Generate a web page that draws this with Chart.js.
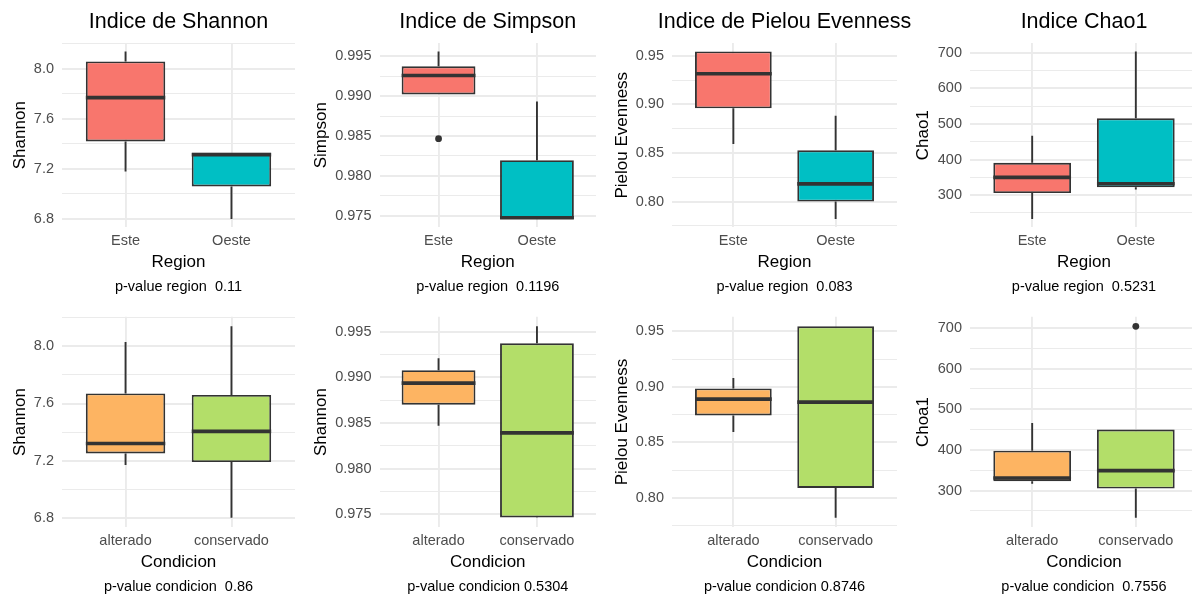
<!DOCTYPE html>
<html>
<head>
<meta charset="utf-8">
<script src="https://cdn.jsdelivr.net/npm/chart.js@4.4.1/dist/chart.umd.min.js"></script>
<style>
  html, body { margin: 0; padding: 0; background: #ffffff; }
  body { width: 1192px; height: 598px; overflow: hidden; position: relative; }
  .cell { position: absolute; width: 321px; height: 300px; }
  .cell canvas { display: block; }
</style>
</head>
<body>
<script>
// Groups and fill colours
const regionGroups = ['Este', 'Oeste'];
const condicionGroups = ['alterado', 'conservado'];
const regionColors = ['#F8766D', '#00BFC4'];
const condicionColors = ['#FDB462', '#B3DE69'];

// Box statistics per group: [lower whisker, Q1, median, Q3, upper whisker]
const shannonRegion = [[7.18, 7.42, 7.77, 8.06, 8.14], [6.80, 7.06, 7.315, 7.33, 7.33]];
const simpsonRegion = [[0.9902, 0.9902, 0.99257, 0.99374, 0.9956], [0.9746, 0.9746, 0.97475, 0.98197, 0.98933]];
const pielouRegion = [[0.8592, 0.8959, 0.9315, 0.9545, 0.9545], [0.782, 0.800, 0.8182, 0.8527, 0.8883]];
const chaoRegion = [[233, 306, 350, 391, 467], [316, 322, 332, 516, 704]];

const shannonCondicion = [[7.17, 7.25, 7.32, 7.67, 8.03], [6.80, 7.19, 7.405, 7.66, 8.14]];
const simpsonCondicion = [[0.9847, 0.9870, 0.98937, 0.99079, 0.9921], [0.9746, 0.97464, 0.98391, 0.99373, 0.9956]];
const pielouCondicion = [[0.8592, 0.8742, 0.8889, 0.8985, 0.908], [0.782, 0.8089, 0.8862, 0.9545, 0.9545]];
const chaoCondicion = [[317, 323, 331, 398, 466], [233, 305, 349, 450, 450]];

// Points beyond the whiskers
const simpsonRegionOut = [[0.98466], []];
const chaoCondicionOut = [[], [704]];
const noOutliers = [[], []];

// Axis ticks (labelled) and minor grid lines
const shannonTicks = [6.8, 7.2, 7.6, 8.0];
const shannonTickLabels = ['6.8', '7.2', '7.6', '8.0'];
const shannonMinor = [7.0, 7.4, 7.8, 8.2];
const simpsonTicks = [0.975, 0.980, 0.985, 0.990, 0.995];
const simpsonTickLabels = ['0.975', '0.980', '0.985', '0.990', '0.995'];
const simpsonMinor = [0.9775, 0.9825, 0.9875, 0.9925];
const pielouTicks = [0.80, 0.85, 0.90, 0.95];
const pielouTickLabels = ['0.80', '0.85', '0.90', '0.95'];
const pielouMinor = [0.775, 0.825, 0.875, 0.925];
const chaoTicks = [300, 400, 500, 600, 700];
const chaoTickLabels = ['300', '400', '500', '600', '700'];
const chaoMinor = [250, 350, 450, 550, 650];

// Texts
const panelTitles = ['Indice de Shannon', 'Indice de Simpson', 'Indice de Pielou Evenness', 'Indice Chao1'];
const regionYTitles = ['Shannon', 'Simpson', 'Pielou Evenness', 'Chao1'];
const condicionYTitles = ['Shannon', 'Shannon', 'Pielou Evenness', 'Choa1'];
const regionPValues = ['p-value region  0.11', 'p-value region  0.1196', 'p-value region  0.083', 'p-value region  0.5231'];
const condicionPValues = ['p-value condicion  0.86', 'p-value condicion 0.5304', 'p-value condicion 0.8746', 'p-value condicion  0.7556'];

const FONT = "'Liberation Sans', Arial, Helvetica, sans-serif";
const BOX_WIDTH = 0.75;          // box width in category units
const HALF = BOX_WIDTH / 2;
const LINE = '#333333';
const Y_AXIS_WIDTH = [62, 78.5, 70, 67];   // per column
const CELL_STEP = 301;           // horizontal distance between panels
const CELL_W = 321;              // canvases overlap a little so long titles are not clipped

Chart.defaults.font.family = FONT;
Chart.defaults.color = '#000000';

// Let the panel title run wider than the plot area (still centred on it)
const wideTitle = {
  id: 'wideTitle',
  afterLayout(chart) {
    const t = chart.titleBlock;
    if (!t) return;
    const c = (chart.chartArea.left + chart.chartArea.right) / 2;
    t.left = c - 150;
    t.right = c + 150;
    t.width = 300;
  }
};

const columns = [
  { ticks: shannonTicks, labels: shannonTickLabels, minor: shannonMinor },
  { ticks: simpsonTicks, labels: simpsonTickLabels, minor: simpsonMinor },
  { ticks: pielouTicks, labels: pielouTickLabels, minor: pielouMinor },
  { ticks: chaoTicks, labels: chaoTickLabels, minor: chaoMinor }
];

const panels = [
  { stats: shannonRegion, out: noOutliers },
  { stats: simpsonRegion, out: simpsonRegionOut },
  { stats: pielouRegion, out: noOutliers },
  { stats: chaoRegion, out: noOutliers },
  { stats: shannonCondicion, out: noOutliers },
  { stats: simpsonCondicion, out: noOutliers },
  { stats: pielouCondicion, out: noOutliers },
  { stats: chaoCondicion, out: chaoCondicionOut }
];

function drawPanel(p) {
  const row = Math.floor(p / 4), col = p % 4;
  const { stats, out } = panels[p];
  const axis = columns[col];
  const groups = row === 0 ? regionGroups : condicionGroups;
  const colors = row === 0 ? regionColors : condicionColors;

  const cell = document.createElement('div');
  cell.className = 'cell';
  cell.style.left = (CELL_STEP * col) + 'px';
  cell.style.top = (300 * row) + 'px';
  const canvas = document.createElement('canvas');
  canvas.width = CELL_W; canvas.height = 300;
  cell.appendChild(canvas);
  document.body.appendChild(cell);

  // y range: data extent widened by 5% on each side
  const all = [];
  stats.forEach(s => all.push(s[0], s[4]));
  out.forEach(a => a.forEach(v => all.push(v)));
  const lo = Math.min(...all), hi = Math.max(...all), pad = (hi - lo) * 0.05;

  const boxes = stats.map((s, i) => ({ x: i + 1, y: [s[1], s[3]] }));
  const whiskers = [];
  stats.forEach((s, i) => {
    whiskers.push({ x: i + 1, y: s[0] }, { x: i + 1, y: s[1] }, { x: i + 1, y: null },
                  { x: i + 1, y: s[3] }, { x: i + 1, y: s[4] }, { x: i + 1, y: null });
  });
  const medians = [];
  stats.forEach((s, i) => {
    medians.push({ x: i + 1 - HALF, y: s[2] }, { x: i + 1 + HALF, y: s[2] }, { x: i + 1, y: null });
  });
  const points = [];
  out.forEach((a, i) => a.forEach(v => points.push({ x: i + 1, y: v })));

  const isMajor = v => axis.ticks.includes(v);

  new Chart(canvas, {
    type: 'bar',
    plugins: [wideTitle],
    data: {
      datasets: [
        { type: 'line', data: whiskers, borderColor: LINE, borderWidth: 1.9, pointRadius: 0,
          spanGaps: false, order: 4 },
        { type: 'bar', data: boxes, backgroundColor: colors, borderColor: LINE, borderWidth: 1.9,
          borderSkipped: false, barPercentage: BOX_WIDTH, categoryPercentage: 1, order: 3 },
        { type: 'line', data: medians, borderColor: LINE, borderWidth: 3.6, pointRadius: 0,
          borderCapStyle: 'butt', spanGaps: false, order: 2 },
        { type: 'line', data: points, showLine: false, pointRadius: 3.4, pointBorderWidth: 0,
          pointBackgroundColor: LINE, order: 1 }
      ]
    },
    options: {
      responsive: false,
      animation: false,
      devicePixelRatio: 1,
      events: [],
      layout: { padding: { left: 0, right: 6 + CELL_W - CELL_STEP, top: row === 0 ? 0 : 13, bottom: 4.8 } },
      plugins: {
        legend: { display: false },
        tooltip: { enabled: false },
        title: {
          display: row === 0, text: panelTitles[col], fullSize: false, color: '#000000',
          font: { family: FONT, size: 21.5, weight: 'normal' }, padding: { top: 9.5, bottom: 7.7 }
        },
        subtitle: {
          display: true, position: 'bottom', fullSize: false, color: '#000000',
          text: row === 0 ? regionPValues[col] : condicionPValues[col],
          font: { family: FONT, size: 14.5, weight: 'normal' }, padding: { top: 4.9, bottom: 0 }
        }
      },
      scales: {
        x: {
          type: 'linear', min: 0.4, max: 2.6, bounds: 'data', offset: false,
          afterBuildTicks: s => { s.ticks = groups.map((g, i) => ({ value: i + 1 })); },
          grid: { offset: false, color: '#EBEBEB', lineWidth: 1.9, drawTicks: false },
          border: { display: false },
          ticks: {
            padding: 4.9, color: '#4D4D4D', maxRotation: 0, autoSkip: false,
            font: { family: FONT, size: 14.5 },
            callback: (v) => groups[Math.round(v) - 1] || ''
          },
          title: {
            display: true, text: row === 0 ? 'Region' : 'Condicion', color: '#000000',
            font: { family: FONT, size: 17 }, padding: { top: -2.1, bottom: 0 }
          }
        },
        y: {
          type: 'linear', min: lo - pad, max: hi + pad, bounds: 'data', beginAtZero: false,
          afterBuildTicks: s => {
            s.ticks = axis.ticks.concat(axis.minor).sort((a, b) => a - b).map(v => ({ value: v }));
          },
          afterFit: s => { s.width = Y_AXIS_WIDTH[col]; },
          grid: {
            color: '#EBEBEB', drawTicks: false,
            lineWidth: c => (c.tick && isMajor(c.tick.value)) ? 1.9 : 1
          },
          border: { display: false },
          ticks: {
            padding: 8, color: '#4D4D4D', autoSkip: false,
            font: { family: FONT, size: 14.5 },
            callback: (v) => { const k = axis.ticks.indexOf(v); return k >= 0 ? axis.labels[k] : ''; }
          },
          title: {
            display: true, text: row === 0 ? regionYTitles[col] : condicionYTitles[col], color: '#000000',
            font: { family: FONT, size: 17 }, padding: { top: 10, bottom: 0 }
          }
        }
      }
    }
  });
}

for (let p = 0; p < 8; p++) drawPanel(p);
</script>
</body>
</html>
